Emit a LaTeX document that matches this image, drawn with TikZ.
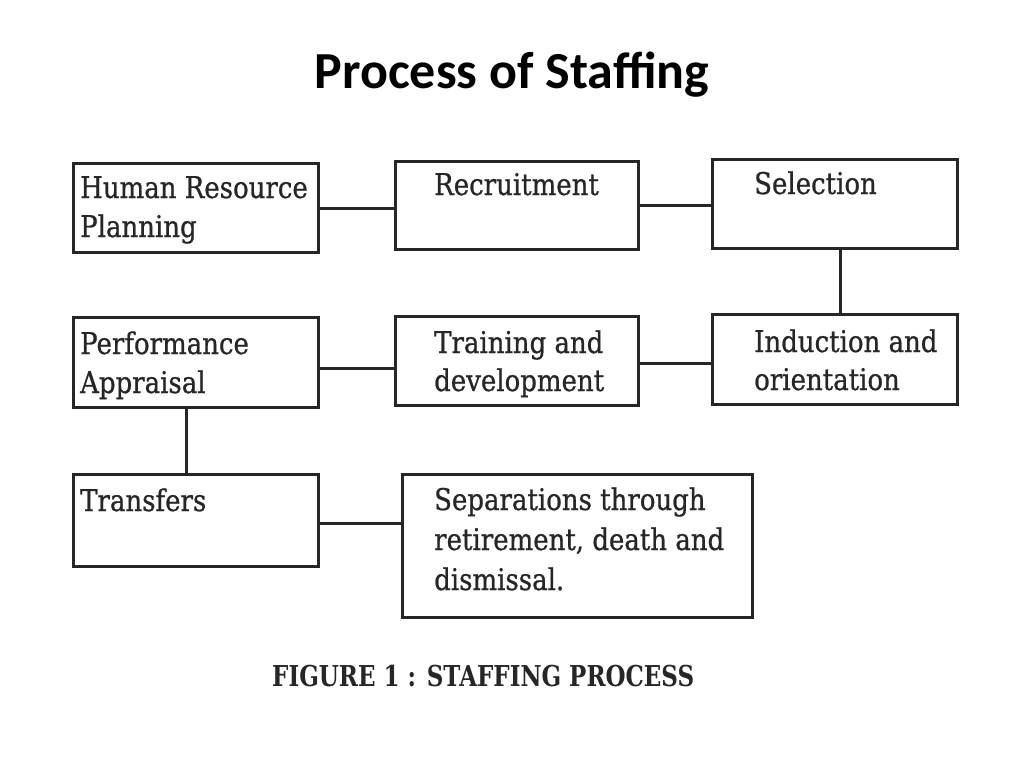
\documentclass[tikz,border=0pt]{standalone}
\usepackage{fontspec}
\usepackage{graphicx}
\newfontfamily\carl{Carlito}
\newfontfamily\bkf[FakeBold=0.8]{DejaVu Serif}
\newfontfamily\bkb{DejaVu Serif}
\newcommand\tall[1]{\scalebox{1}[1.15]{#1}}
\begin{document}
\begin{tikzpicture}[x=1pt,y=-1pt,
  box/.style={draw=black!85,line width=3pt,rectangle,inner sep=0pt,outer sep=0pt},
  link/.style={draw=black!85,line width=3pt},
  lbl/.style={anchor=base west,inner sep=0pt,font=\bkf\fontsize{26}{26}\selectfont,text=black!85}]
\useasboundingbox[fill=white] (0,0) rectangle (1024,768);
\node[anchor=base,inner sep=0pt,font=\carl\bfseries\fontsize{52}{52}\selectfont] (title) at (512,88) {Process of Staffing};
% boxes
\node[box,minimum width=245,minimum height=89] (hrp) at (196,208) {};
\node[box,minimum width=243,minimum height=88] (rec) at (517,205.5) {};
\node[box,minimum width=245,minimum height=89] (sel) at (835,204) {};
\node[box,minimum width=245,minimum height=90] (pa) at (196,362.5) {};
\node[box,minimum width=243,minimum height=89] (tra) at (517,361) {};
\node[box,minimum width=245,minimum height=90] (ind) at (835,359.5) {};
\node[box,minimum width=245,minimum height=92] (trf) at (196,520.5) {};
\node[box,minimum width=350,minimum height=143] (sep) at (577.5,546) {};
% connectors
\draw[link] (hrp.east) -- (hrp.east -| rec.west);
\draw[link] (rec.east) -- (rec.east -| sel.west);
\draw[link] ([xshift=5]sel.south) -- ([xshift=5]sel.south |- ind.north);
\draw[link] ([yshift=-3.5]ind.west) -- ([yshift=-3.5]ind.west -| tra.east);
\draw[link] ([yshift=-7.5]tra.west) -- ([yshift=-7.5]tra.west -| pa.east);
\draw[link] ([xshift=-10]pa.south) -- ([xshift=-10]pa.south |- trf.north);
\draw[link] ([yshift=-2.5]trf.east) -- ([yshift=-2.5]trf.east -| sep.west);
% labels
\node[lbl] (l1) at (80,198) {\tall{Human Resource}};
\node[lbl] (l2) at (80,237) {\tall{Planning}};
\node[lbl] (l3) at (434,195) {\tall{Recruitment}};
\node[lbl] (l4) at (754,194) {\tall{Selection}};
\node[lbl] (l5) at (80,354) {\tall{Performance}};
\node[lbl] (l6) at (80,393) {\tall{Appraisal}};
\node[lbl] (l7) at (434,353) {\tall{Training and}};
\node[lbl] (l8) at (434,391) {\tall{development}};
\node[lbl] (l9) at (754,352) {\tall{Induction and}};
\node[lbl] (l10) at (754,390) {\tall{orientation}};
\node[lbl] (l11) at (80,511) {\tall{Transfers}};
\node[lbl] (l12) at (434,510) {\tall{Separations through}};
\node[lbl] (l13) at (434,550) {\tall{retirement, death and}};
\node[lbl] (l14) at (434,590) {\tall{dismissal.}};
\node[anchor=base west,inner sep=0pt,font=\bkb\bfseries\fontsize{23}{23}\selectfont,text=black!85] (cap) at (272,686) {\scalebox{1}[1.25]{FIGURE 1 : STAFFING PROCESS}};
\end{tikzpicture}
\end{document}
